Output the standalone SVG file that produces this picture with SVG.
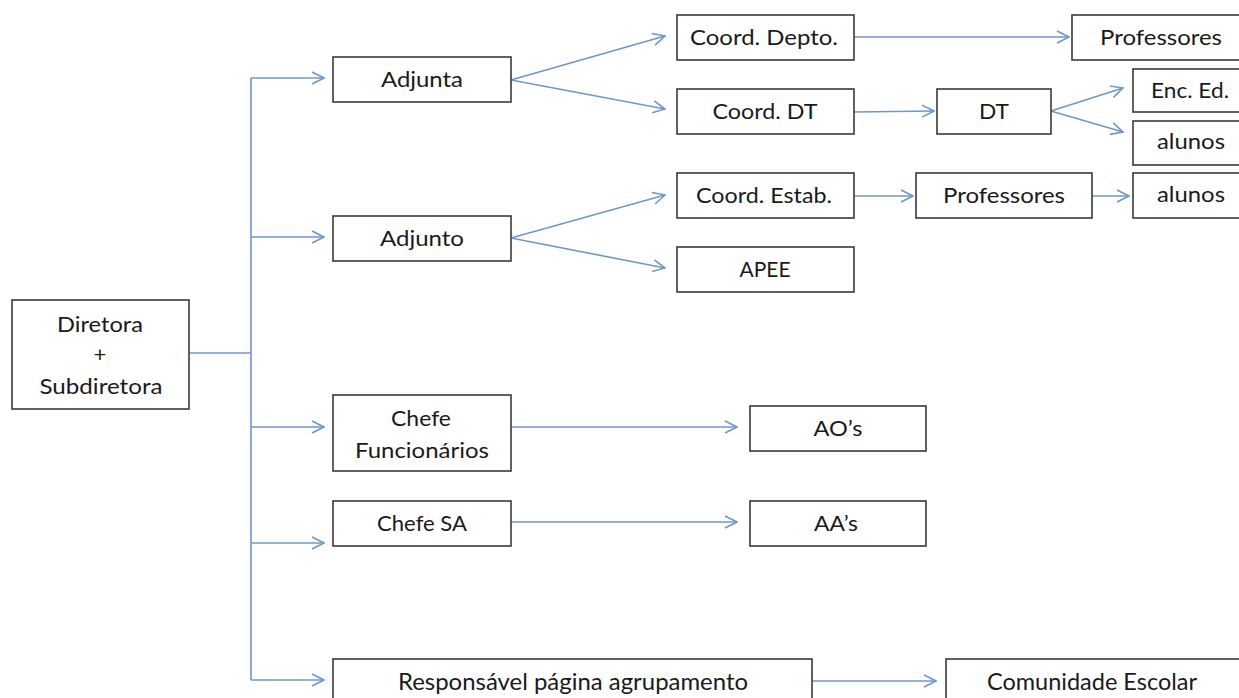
<svg xmlns="http://www.w3.org/2000/svg" width="1239" height="698" viewBox="0 0 1239 698">
  <style>
    .box { fill: #ffffff; stroke: #3a3a3a; stroke-width: 1.6; }
    .lbl { font-family: Lato, "Open Sans", "Liberation Sans", sans-serif; font-size: 22px; fill: #1a1a1a; text-anchor: middle; }
    .cond { font-size: 23px; }
    .link { fill: none; stroke: #6f97cc; stroke-width: 1.6; }
  </style>
  <defs>
    <marker id="arrow" viewBox="0 0 14 14" refX="13" refY="7" markerWidth="14" markerHeight="14" markerUnits="userSpaceOnUse" orient="auto">
      <path d="M1,1 L13,7 L1,13" fill="none" stroke="#6f97cc" stroke-width="1.6"/>
    </marker>
  </defs>
  <rect width="1239" height="698" fill="#ffffff"/>

  <!-- connectors -->
  <g id="connectors">
    <path class="link" d="M189,353 H251"/>
    <path class="link" d="M251,78 V680"/>
    <path class="link" d="M251,78 H324" marker-end="url(#arrow)"/>
    <path class="link" d="M251,237 H324" marker-end="url(#arrow)"/>
    <path class="link" d="M251,427 H324" marker-end="url(#arrow)"/>
    <path class="link" d="M251,543 H324" marker-end="url(#arrow)"/>
    <path class="link" d="M251,680 H324" marker-end="url(#arrow)"/>
    <path class="link" d="M511,80 L665,36" marker-end="url(#arrow)"/>
    <path class="link" d="M511,80 L665,109" marker-end="url(#arrow)"/>
    <path class="link" d="M854,37 L1069,37" marker-end="url(#arrow)"/>
    <path class="link" d="M854,112 L934,111" marker-end="url(#arrow)"/>
    <path class="link" d="M1051,111 L1123,88" marker-end="url(#arrow)"/>
    <path class="link" d="M1051,111 L1123,132" marker-end="url(#arrow)"/>
    <path class="link" d="M511,238 L665,195" marker-end="url(#arrow)"/>
    <path class="link" d="M511,238 L665,268" marker-end="url(#arrow)"/>
    <path class="link" d="M854,196 L913,196" marker-end="url(#arrow)"/>
    <path class="link" d="M1092,196 L1129,196" marker-end="url(#arrow)"/>
    <path class="link" d="M511,427 L737,427" marker-end="url(#arrow)"/>
    <path class="link" d="M511,522 L737,522" marker-end="url(#arrow)"/>
    <path class="link" d="M812,681 L936,681" marker-end="url(#arrow)"/>
  </g>

  <!-- nodes -->
  <g id="diretora">
    <rect class="box" x="12" y="300" width="177" height="109"/>
    <text class="lbl" x="100" y="332" textLength="86" lengthAdjust="spacingAndGlyphs">Diretora</text>
    <text class="lbl" x="100" y="362">+</text>
    <text class="lbl" x="101" y="394" textLength="123" lengthAdjust="spacingAndGlyphs">Subdiretora</text>
  </g>
  <g id="adjunta">
    <rect class="box" x="333" y="57" width="178" height="45"/>
    <text class="lbl" x="422" y="87" textLength="82" lengthAdjust="spacingAndGlyphs">Adjunta</text>
  </g>
  <g id="adjunto">
    <rect class="box" x="333" y="216" width="178" height="45"/>
    <text class="lbl" x="422" y="246" textLength="84" lengthAdjust="spacingAndGlyphs">Adjunto</text>
  </g>
  <g id="chefe-funcionarios">
    <rect class="box" x="333" y="395" width="178" height="76"/>
    <text class="lbl" x="421" y="426" textLength="60" lengthAdjust="spacingAndGlyphs">Chefe</text>
    <text class="lbl" x="422" y="458" textLength="134" lengthAdjust="spacingAndGlyphs">Funcionários</text>
  </g>
  <g id="chefe-sa">
    <rect class="box" x="333" y="501" width="178" height="45"/>
    <text class="lbl" x="422" y="531" textLength="90" lengthAdjust="spacingAndGlyphs">Chefe SA</text>
  </g>
  <g id="responsavel">
    <rect class="box" x="333" y="659" width="479" height="50"/>
    <text class="lbl cond" x="573" y="690" textLength="350" lengthAdjust="spacingAndGlyphs">Responsável página agrupamento</text>
  </g>
  <g id="coord-depto">
    <rect class="box" x="677" y="15" width="177" height="45"/>
    <text class="lbl" x="764" y="45" textLength="148" lengthAdjust="spacingAndGlyphs">Coord. Depto.</text>
  </g>
  <g id="coord-dt">
    <rect class="box" x="677" y="89" width="177" height="45"/>
    <text class="lbl" x="765" y="119" textLength="105" lengthAdjust="spacingAndGlyphs">Coord. DT</text>
  </g>
  <g id="coord-estab">
    <rect class="box" x="677" y="173" width="177" height="45"/>
    <text class="lbl" x="764" y="203" textLength="136" lengthAdjust="spacingAndGlyphs">Coord. Estab.</text>
  </g>
  <g id="apee">
    <rect class="box" x="677" y="247" width="177" height="45"/>
    <text class="lbl" x="765" y="277" textLength="51" lengthAdjust="spacingAndGlyphs">APEE</text>
  </g>
  <g id="professores-depto">
    <rect class="box" x="1072" y="15" width="180" height="45"/>
    <text class="lbl" x="1161" y="45" textLength="122" lengthAdjust="spacingAndGlyphs">Professores</text>
  </g>
  <g id="dt">
    <rect class="box" x="937" y="89" width="114" height="45"/>
    <text class="lbl" x="994" y="119" textLength="30" lengthAdjust="spacingAndGlyphs">DT</text>
  </g>
  <g id="enc-ed">
    <rect class="box" x="1133" y="69" width="120" height="43"/>
    <text class="lbl" x="1190" y="98" textLength="78" lengthAdjust="spacingAndGlyphs">Enc. Ed.</text>
  </g>
  <g id="alunos-dt">
    <rect class="box" x="1133" y="121" width="120" height="44"/>
    <text class="lbl" x="1191" y="149" textLength="68" lengthAdjust="spacingAndGlyphs">alunos</text>
  </g>
  <g id="professores-estab">
    <rect class="box" x="916" y="173" width="176" height="45"/>
    <text class="lbl" x="1004" y="203" textLength="122" lengthAdjust="spacingAndGlyphs">Professores</text>
  </g>
  <g id="alunos-estab">
    <rect class="box" x="1133" y="173" width="120" height="45"/>
    <text class="lbl" x="1191" y="202" textLength="68" lengthAdjust="spacingAndGlyphs">alunos</text>
  </g>
  <g id="aos">
    <rect class="box" x="750" y="406" width="176" height="45"/>
    <text class="lbl" x="838" y="436" textLength="49" lengthAdjust="spacingAndGlyphs">AO’s</text>
  </g>
  <g id="aas">
    <rect class="box" x="750" y="501" width="176" height="45"/>
    <text class="lbl" x="836" y="531" textLength="44" lengthAdjust="spacingAndGlyphs">AA’s</text>
  </g>
  <g id="comunidade-escolar">
    <rect class="box" x="946" y="659" width="306" height="50"/>
    <text class="lbl cond" x="1092" y="690" textLength="210" lengthAdjust="spacingAndGlyphs">Comunidade Escolar</text>
  </g>
</svg>
